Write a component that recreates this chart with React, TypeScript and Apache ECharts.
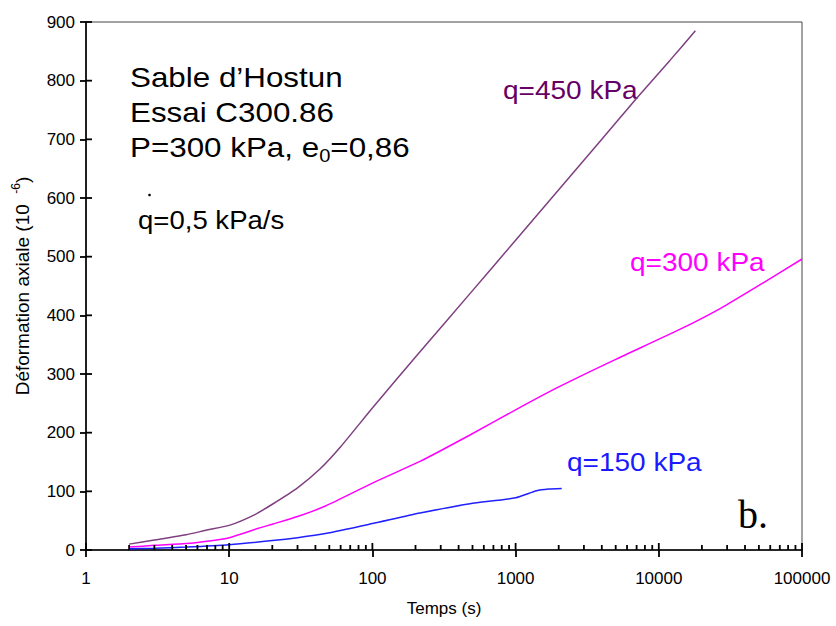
import React, { useEffect, useRef } from "react";
import * as echarts from "echarts";

// Temps (s) vs Déformation axiale (10^-6)
const q450Data: [number, number][] = [
  [2, 10], [3, 17], [5, 26], [7, 34], [10, 42], [15, 60], [20, 78], [30, 106],
  [43, 138], [60, 176], [100, 242], [215, 338], [480, 437], [1000, 528],
  [2000, 614], [4000, 700], [7000, 770], [12000, 835], [18000, 885],
];
const q300Data: [number, number][] = [
  [2, 5], [3, 8], [5, 11], [7, 15], [10, 21], [16, 37], [20, 44], [30, 57],
  [47, 75], [100, 114], [215, 151], [480, 196], [1000, 239], [2000, 278],
  [5000, 325], [14000, 376], [27000, 412], [50000, 451], [100000, 496],
];
const q150Data: [number, number][] = [
  [2, 2], [3, 3], [5, 5], [10, 9], [20, 16], [30, 21], [47, 28], [100, 45],
  [215, 63], [480, 79], [1000, 89], [1400, 101], [1700, 104], [2100, 105],
];
const seriesNames = ["q=450 kPa", "q=300 kPa", "q=150 kPa"];
const lineColors = ["#7f3f80", "#ff00ff", "#2020ff"];
const labelColors = ["#660066", "#ff00ff", "#1a1aff"];
const xMin = 1;
const xMax = 100000;
const yMin = 0;
const yMax = 900;
const yStep = 100;

const majorXTicks: number[] = [];
const minorXTicks: number[] = [];
for (let d = xMin; d <= xMax; d *= 10) {
  majorXTicks.push(d);
  if (d < xMax) for (let m = 2; m <= 9; m++) minorXTicks.push(d * m);
}
const yTicks: number[] = [];
for (let v = yMin; v <= yMax; v += yStep) yTicks.push(v);

const FONT = "'Liberation Sans', Arial, sans-serif";

export default function App() {
  const ref = useRef<HTMLDivElement>(null);
  useEffect(() => {
    document.body.style.margin = "0";
    const chart = echarts.init(ref.current!, null, { renderer: "svg" });
    const bigText = { fontSize: 28, fontFamily: FONT, fill: "#000", verticalAlign: "middle" as const };
    const qText = { fontSize: 25, fontFamily: FONT, verticalAlign: "middle" as const };
    chart.setOption({
      animation: false,
      backgroundColor: "#fff",
      grid: {
        left: 86,
        right: 34,
        top: 22,
        bottom: 76,
        show: true,
        borderColor: "#444",
        borderWidth: 1,
        backgroundColor: "transparent",
      },
      xAxis: {
        type: "log",
        logBase: 10,
        min: xMin,
        max: xMax,
        position: "bottom",
        splitLine: { show: false },
        axisLine: { show: true, lineStyle: { color: "#000", width: 1.6 } },
        axisTick: { show: true, inside: false, length: 7, lineStyle: { color: "#000", width: 1.8 } },
        axisLabel: { fontSize: 17, color: "#000", margin: 20, fontFamily: FONT, formatter: (v: number) => String(v) },
        name: "Temps (s)",
        nameLocation: "middle",
        nameGap: 50,
        nameTextStyle: { fontSize: 17, color: "#000", fontFamily: FONT },
      },
      yAxis: {
        type: "value",
        min: yMin,
        max: yMax,
        interval: yStep,
        position: "left",
        splitLine: { show: false },
        axisLine: { show: true, lineStyle: { color: "#000", width: 1.6 } },
        axisTick: { show: true, inside: false, length: 6, lineStyle: { color: "#000", width: 1.8 } },
        axisLabel: { fontSize: 17, color: "#000", margin: 11, fontFamily: FONT },
        name: "Déformation axiale (10  {sup|-6})",
        nameLocation: "middle",
        nameRotate: 90,
        nameGap: 52,
        nameTextStyle: {
          fontSize: 19,
          color: "#000",
          fontFamily: FONT,
          rich: { sup: { fontSize: 12, verticalAlign: "top", color: "#000", fontFamily: FONT, lineHeight: 24 } },
        },
      },
      series: [q450Data, q300Data, q150Data].map((d, i) => ({
        type: "line",
        name: seriesNames[i],
        data: d,
        showSymbol: false,
        smooth: 0.2,
        lineStyle: { color: lineColors[i], width: 1.5 },
        itemStyle: { color: lineColors[i] },
      })),
    });

    // inner tick marks placed through the chart's own scales
    const y0 = chart.convertToPixel({ yAxisIndex: 0 }, yMin) as number;
    const x0 = chart.convertToPixel({ xAxisIndex: 0 }, xMin) as number;
    const tickStyle = { stroke: "#000", lineWidth: 1.8 };
    const tickEls: any[] = [];
    majorXTicks.forEach((t) => {
      const px = chart.convertToPixel({ xAxisIndex: 0 }, t) as number;
      tickEls.push({ type: "line", z: 100, shape: { x1: px, y1: y0, x2: px, y2: y0 - 7 }, style: tickStyle });
    });
    minorXTicks.forEach((t) => {
      const px = chart.convertToPixel({ xAxisIndex: 0 }, t) as number;
      tickEls.push({ type: "line", z: 100, shape: { x1: px, y1: y0, x2: px, y2: y0 - 5 }, style: tickStyle });
    });
    yTicks.forEach((v) => {
      const py = chart.convertToPixel({ yAxisIndex: 0 }, v) as number;
      tickEls.push({ type: "line", z: 100, shape: { x1: x0, y1: py, x2: x0 + 6, y2: py }, style: tickStyle });
    });

    chart.setOption({
      graphic: [
        ...tickEls,
        { type: "text", x: 130, y: 77, scaleX: 1.12, style: { ...bigText, text: "Sable d’Hostun" } },
        { type: "text", x: 130, y: 112, scaleX: 1.12, style: { ...bigText, text: "Essai C300.86" } },
        {
          type: "text",
          x: 130,
          y: 147,
          scaleX: 1.12,
          style: {
            ...bigText,
            text: "P=300 kPa, e{sub|0}=0,86",
            rich: { sub: { fontSize: 18, fontFamily: FONT, fill: "#000", verticalAlign: "bottom", lineHeight: 36 } },
          },
        },
        { type: "circle", shape: { cx: 149.5, cy: 195, r: 1.3 }, style: { fill: "#000" } },
        { type: "text", x: 138, y: 220, scaleX: 1.06, style: { ...bigText, fontSize: 26, text: "q=0,5 kPa/s" } },
        { type: "text", x: 503, y: 91, scaleX: 1.12, style: { ...qText, fill: labelColors[0], text: seriesNames[0] } },
        { type: "text", x: 630, y: 263, scaleX: 1.12, style: { ...qText, fill: labelColors[1], text: seriesNames[1] } },
        { type: "text", x: 567, y: 463, scaleX: 1.12, style: { ...qText, fill: labelColors[2], text: seriesNames[2] } },
        {
          type: "text",
          x: 738,
          y: 514,
          style: { text: "b.", fontSize: 40, fontFamily: "'Liberation Serif', 'Times New Roman', serif", fill: "#000", verticalAlign: "middle" },
        },
      ],
    });
    return () => chart.dispose();
  }, []);
  return <div ref={ref} style={{ width: 836, height: 626 }} />;
}
